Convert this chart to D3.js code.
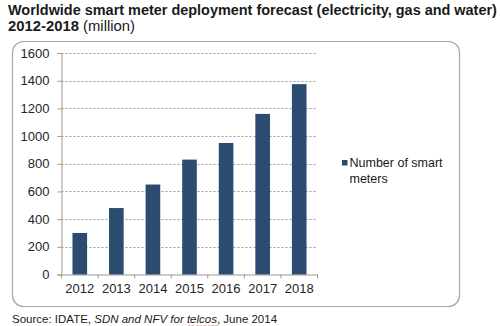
<!DOCTYPE html>
<html>
<head>
<meta charset="utf-8">
<script src="https://cdn.jsdelivr.net/npm/d3@7"></script>
<style>
  body { margin: 0; background: #fff; }
  svg { display: block; font-family: 'Liberation Sans', Arial, sans-serif; }
</style>
</head>
<body>
<div id="viz"></div>
<script>
'use strict';

var years = ['2012', '2013', '2014', '2015', '2016', '2017', '2018'];
var meters = [300, 480, 650, 830, 950, 1160, 1375];
var yTicks = [0, 200, 400, 600, 800, 1000, 1200, 1400, 1600];
var seriesName = ['Number of smart', 'meters'];

var width = 500,
    height = 326;
var plot = {left: 61.5, right: 317.5, top: 53, bottom: 274.5};
var barColor = '#2b4c70';

var svg = d3.select('#viz').append('svg')
    .attr('width', width)
    .attr('height', height);

// shrink a text's font until it spans the given width
function fitWidth(sel, w) {
    var fs = +sel.attr('font-size');
    var len = sel.node().getComputedTextLength();
    sel.attr('font-size', (fs * w / len).toFixed(2));
}

// heading, two lines
var title = svg.append('text')
    .attr('x', 8)
    .attr('y', 15)
    .attr('font-size', 14)
    .attr('font-weight', 'bold')
    .attr('fill', '#1a1a1a')
    .text('Worldwide smart meter deployment forecast (electricity, gas and water)');
fitWidth(title, 489);

var sub = svg.append('text')
    .attr('x', 8)
    .attr('y', 31)
    .attr('font-size', 14)
    .attr('fill', '#1a1a1a');
sub.append('tspan').attr('font-weight', 'bold').text('2012-2018');
sub.append('tspan').text(' (million)');
fitWidth(sub, 127);

// rounded frame around the chart
svg.append('rect')
    .attr('x', 12.5)
    .attr('y', 41.5)
    .attr('width', 447)
    .attr('height', 265)
    .attr('rx', 11)
    .attr('fill', 'none')
    .attr('stroke', '#a6a6a6')
    .attr('stroke-width', 1.2);

var x = d3.scaleBand()
    .domain(years)
    .range([plot.left, plot.right])
    .paddingInner(0.6)
    .paddingOuter(0.3);

var y = d3.scaleLinear()
    .domain([0, 1600])
    .range([plot.bottom, plot.top]);

// dashed grid lines
svg.append('g')
    .selectAll('line')
    .data(yTicks.slice(1))
    .enter().append('line')
    .attr('x1', plot.left)
    .attr('x2', plot.right)
    .attr('y1', d => Math.round(y(d)) + 0.5)
    .attr('y2', d => Math.round(y(d)) + 0.5)
    .attr('stroke', '#9a9a9a')
    .attr('stroke-dasharray', '2,2');

var yAxis = svg.append('g')
    .attr('transform', 'translate(' + plot.left + ',0)')
    .call(d3.axisLeft(y).tickValues(yTicks).tickFormat(d3.format('d'))
        .tickSize(4).tickPadding(8));

var xAxis = svg.append('g')
    .attr('transform', 'translate(0,' + plot.bottom + ')')
    .call(d3.axisBottom(x).tickSize(0).tickPadding(9));

// tick marks between categories on the x axis
var step = x.step();
svg.append('g')
    .selectAll('line')
    .data(d3.range(years.length + 1))
    .enter().append('line')
    .attr('x1', d => plot.left + d * step)
    .attr('x2', d => plot.left + d * step)
    .attr('y1', plot.bottom)
    .attr('y2', plot.bottom + 4)
    .attr('stroke', '#9a9a9a');

[yAxis, xAxis].forEach(function(ax) {
    ax.select('.domain').attr('stroke', '#9a9a9a');
    ax.selectAll('.tick line').attr('stroke', '#9a9a9a');
    ax.selectAll('.tick text')
        .attr('font-size', 13)
        .attr('font-family', 'Liberation Sans, Arial, sans-serif')
        .attr('fill', '#262626');
});

svg.append('g')
    .selectAll('rect')
    .data(years)
    .enter().append('rect')
    .attr('x', d => x(d))
    .attr('y', (d, i) => y(meters[i]))
    .attr('width', x.bandwidth())
    .attr('height', (d, i) => plot.bottom - y(meters[i]))
    .attr('fill', barColor);

// legend
var legend = svg.append('g')
    .attr('transform', 'translate(342,160)');
legend.append('rect')
    .attr('width', 5.5)
    .attr('height', 5.5)
    .attr('fill', barColor);
legend.append('text')
    .attr('x', 7.5)
    .attr('y', 7.3)
    .attr('font-size', 12.5)
    .attr('fill', '#1a1a1a')
    .selectAll('tspan')
    .data(seriesName)
    .enter().append('tspan')
    .attr('x', 7.5)
    .attr('dy', (d, i) => i ? 15.4 : 0)
    .text(d => d);

// source line
var lead = 'Source: IDATE, SDN and NFV for ';
var source = svg.append('text')
    .attr('x', 12)
    .attr('y', 323)
    .attr('font-size', 11.5)
    .attr('fill', '#1a1a1a');
source.append('tspan').text('Source: IDATE, ');
source.append('tspan').attr('font-style', 'italic').text('SDN and NFV for ');
source.append('tspan').attr('font-style', 'italic').text('telcos');
source.append('tspan').text(', June 2014');

// spell-check style squiggle under "telcos"
var full = source.node();
var start = full.getSubStringLength(0, lead.length);
var len = full.getSubStringLength(lead.length, 6);
svg.append('path')
    .attr('d', d3.range(0, Math.ceil(len / 2) + 1).map(function(i) {
        return (i ? 'L' : 'M') + (12 + start + i * 2) + ',' + (325.5 + (i % 2 ? 0 : 1));
    }).join(''))
    .attr('fill', 'none')
    .attr('stroke', '#e07070')
    .attr('stroke-width', 0.7);
</script>
</body>
</html>
